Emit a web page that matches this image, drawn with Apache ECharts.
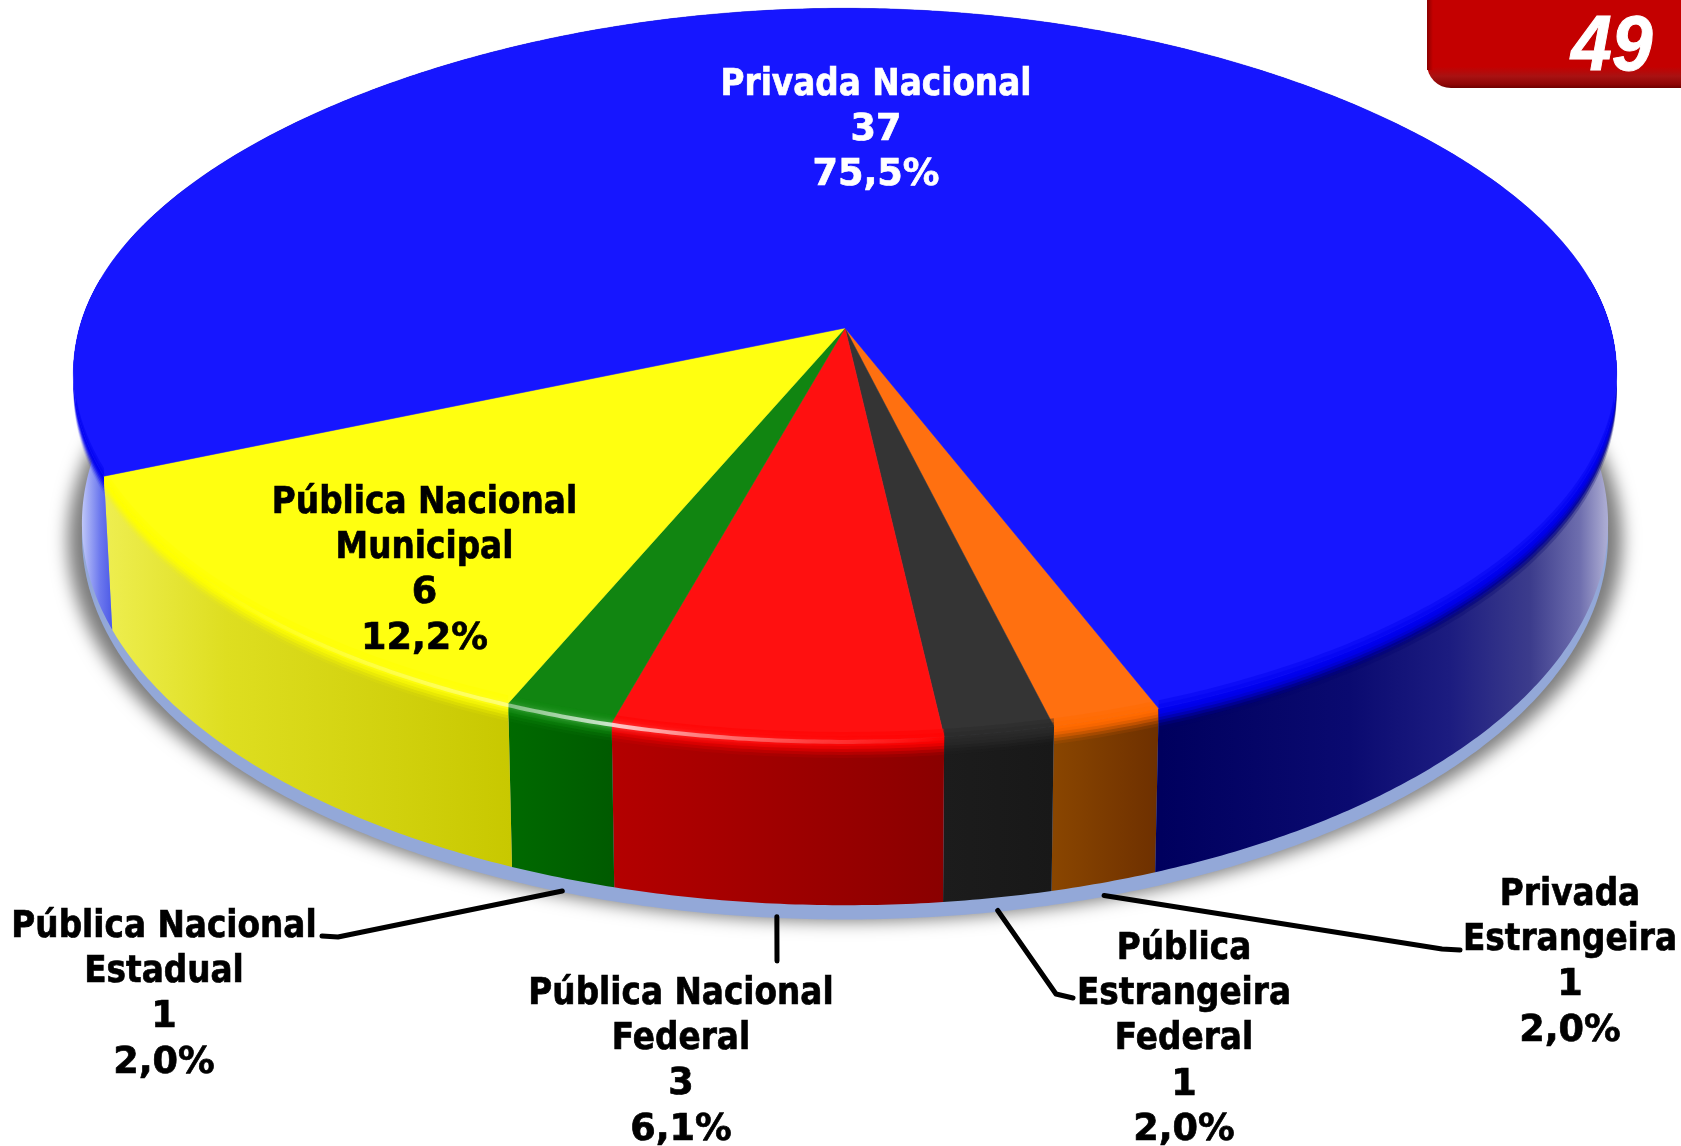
<!DOCTYPE html>
<html>
<head>
<meta charset="utf-8">
<style>html,body{margin:0;padding:0;background:#fff}#c{width:1681px;height:1146px}</style>
<script src="https://cdn.jsdelivr.net/npm/echarts@6/dist/echarts.min.js"></script>
</head>
<body>
<div id="c"></div>
<script>
// ---- data (clockwise from the orange slice) ----
const categoryLines = [
  ['Privada', 'Estrangeira'],
  ['Pública', 'Estrangeira', 'Federal'],
  ['Pública Nacional', 'Federal'],
  ['Pública Nacional', 'Estadual'],
  ['Pública Nacional', 'Municipal'],
  ['Privada Nacional']
];
const values = [1, 1, 3, 1, 6, 37];
const badgeText = '49';

// ---- styles ----
const topColors  = ['#ff7010', '#343434', '#ff1010', '#118511', '#ffff10', '#1616ff'];
const edgeColors = ['#ff6a00', '#2a2a2a', '#ff0000', '#0f8a0f', '#ffff00', '#0000f0'];
const wallStops = [
  [[0, '#8a4600'], [1, '#6e3000']],
  [[0, '#1c1c1c'], [1, '#181818']],
  [[0, '#b40000'], [1, '#8a0000']],
  [[0, '#006a00'], [1, '#005a00']],
  [[0, '#eeee50'], [0.3, '#dede20'], [1, '#c8c800']],
  [[0, '#c8d0fa'], [0.0045, '#c8d0fa'], [0.0175, '#6c78ee'], [0.03, '#3a48e2'], [0.04, '#000060'], [0.703, '#00005e'], [0.825, '#0a0a70'],
   [0.89, '#1c1c80'], [0.942, '#3c3c8c'], [0.974, '#6e6eae'], [0.99, '#a8a8d0'], [1, '#b8c0e8']]
];
const labelColors = ['#000', '#000', '#000', '#000', '#000', '#fff'];

// ---- layout ----
const startDeg = 68.8;
const CX = 845;
const PERSP = 0.126;
const TOP = { rx: 765.5, ry: 360, cy: 328, backPinch: 0.012 };
const BASE = { rx: 757, ry: 376, cy: 475 };
const labelX = [1570, 1184, 681, 164, 424.5, 876];
const labelY = [895, 949, 994, 927, 503, 85];
const lineGap = 45.4;
const leaderElbows = [
  [[1442, 949], [1460, 950]],
  [[1056, 994], [1073, 998]],
  [[777, 961]],
  [[338, 937], [322, 936]],
  null, null
];
const FONT = 'bold 37px "DejaVu Sans"';
const NAME_SQUEEZE = 0.885;
const NUMBER_SQUEEZE = 0.99;

const total = values.reduce((a, b) => a + b, 0);
const sliceRange = i => {
  let a = startDeg;
  for (let k = 0; k < i; k++) a += values[k] / total * 360;
  return [a, a + values[i] / total * 360];
};
// parts of a slice's rim that face the viewer
function clipRanges(a, b, lo, hi) {
  const out = [];
  [[lo, hi], [lo + 360, hi + 360]].forEach(r => {
    const s = Math.max(a, r[0]), e = Math.min(b, r[1]);
    if (e > s) out.push([s, e]);
  });
  return out;
}
function proj(deg, P, d) {
  const r = deg * Math.PI / 180, X = Math.cos(r), Y = Math.sin(r), w = 1 - PERSP * Y;
  const s2 = Math.sin(2 * r);
  const pinch = (P.backPinch && Y < 0) ? 1 - P.backPinch * s2 * s2 : 1;
  return [CX + pinch * P.rx * X / w, P.cy + pinch * P.ry * Y / w + (d || 0)];
}
function arc(a, b, P, d) {
  const pts = [], n = Math.max(2, Math.ceil((b - a) * 2));
  for (let k = 0; k <= n; k++) pts.push(proj(a + (b - a) * k / n, P, d));
  return pts;
}
function grad(stops, x0, x1) {
  return { type: 'linear', x: x0, y: 0, x2: x1, y2: 0, global: true,
    colorStops: stops.map(s => ({ offset: s[0], color: s[1] })) };
}
const poly = (points, style) => ({ type: 'polygon', shape: { points }, style, silent: true });

function series(z, fn, data) {
  return { type: 'custom', coordinateSystem: 'none', z, clip: false, animation: false, silent: true,
    data: data || values.map(v => [v]), renderItem: fn };
}
const whole = [[total]];

function renderShadow() {
  const far = 3000;
  const soft = Object.assign(poly(arc(0, 360, { rx: 771, ry: 375, cy: 492 }),
    { fill: '#000', shadowBlur: 17, shadowColor: '#7c7c7c', shadowOffsetX: far }), { x: -far });
  return { type: 'group', children: [
    soft,
    poly(arc(0, 360, { rx: BASE.rx, ry: BASE.ry + 2, cy: BASE.cy + 12 }), { fill: '#93a8d8' })
  ] };
}
function renderWall(params) {
  const i = params.dataIndex, [a, b] = sliceRange(i);
  const pts = arc(a, b, TOP).concat(arc(a, b, BASE).reverse());
  const isBlue = i === values.length - 1;
  const xs = pts.map(p => p[0]);
  const x0 = isBlue ? 73 : Math.min.apply(null, xs), x1 = isBlue ? 1620 : Math.max.apply(null, xs);
  return poly(pts, { fill: grad(wallStops[i], x0, x1) });
}
function renderBand(params) {
  const i = params.dataIndex, [a, b] = sliceRange(i);
  const ds = [18, 15, 12, 9, 6, 3], alphas = [0.1, 0.22, 0.36, 0.52, 0.72, 0.9];
  const children = [];
  if (i === values.length - 1) {
    // dark rim where the blue top turns into the lit right-hand wall
    clipRanges(a, b, -6, 70).forEach(r => [22, 18, 14].forEach((d, k) => children.push(poly(
      arc(r[0], r[1], TOP).concat(arc(r[0], r[1], TOP, d).reverse()),
      { fill: '#00006a', opacity: [0.25, 0.45, 0.7][k] }))));
  }
  clipRanges(a, b, -8, 188).forEach(r => ds.forEach((d, k) => children.push(poly(
    arc(r[0], r[1], TOP).concat(arc(r[0], r[1], TOP, d).reverse()),
    { fill: edgeColors[i], opacity: alphas[k] }))));
  return { type: 'group', children };
}
function renderTop(params) {
  const i = params.dataIndex, [a, b] = sliceRange(i);
  const apex = [CX, TOP.cy];
  const children = [poly([apex].concat(arc(a, b, TOP)), { fill: topColors[i], stroke: topColors[i], lineWidth: 0.5 })];
  clipRanges(a, b, 12, 168).forEach(r => [8, 4].forEach(d => children.push(poly(
    arc(r[0], r[1], TOP).concat(arc(r[0], r[1], TOP, -d).reverse()),
    { fill: edgeColors[i], opacity: 0.45 }))));
  return { type: 'group', children };
}
function renderHighlight() {
  return { type: 'polyline', silent: true,
    shape: { points: arc(72, 150, TOP, 2) },
    style: { fill: 'none', lineWidth: 4, lineCap: 'round', shadowBlur: 6, shadowColor: 'rgba(255,255,255,0.5)',
      stroke: grad([[0, 'rgba(255,255,255,0)'], [0.38, 'rgba(255,255,255,0.35)'], [0.55, 'rgba(255,255,255,0.75)'],
        [0.66, 'rgba(255,255,255,0.45)'], [0.82, 'rgba(255,255,255,0.2)'], [1, 'rgba(255,255,255,0)']], 200, 950) } };
}
function renderLabel(params) {
  const i = params.dataIndex, [a, b] = sliceRange(i);
  const pct = (values[i] / total * 100).toFixed(1).replace('.', ',') + '%';
  const names = categoryLines[i], lines = names.concat([String(values[i]), pct]);
  const children = lines.map((t, k) => ({
    type: 'text', silent: true, x: labelX[i], y: labelY[i] + k * lineGap,
    scaleX: k < names.length ? NAME_SQUEEZE : NUMBER_SQUEEZE,
    style: { text: t, x: 0, y: 0, font: FONT, fill: labelColors[i], stroke: labelColors[i], lineWidth: 0.7,
      align: 'center', verticalAlign: 'middle' }
  }));
  if (leaderElbows[i]) {
    const rim = proj((a + b) / 2, BASE, 13);
    children.push({ type: 'polyline', silent: true,
      shape: { points: [rim].concat(leaderElbows[i]) },
      style: { fill: 'none', stroke: '#000', lineWidth: 5, lineCap: 'round', lineJoin: 'round' } });
  }
  return { type: 'group', children };
}

const chart = echarts.init(document.getElementById('c'), null, { renderer: 'canvas' });
chart.setOption({
  animation: false,
  backgroundColor: '#fff',
  series: [
    series(1, renderShadow, whole),
    series(2, renderWall),
    series(3, renderBand),
    series(4, renderTop),
    series(5, renderHighlight, whole),
    series(6, renderLabel)
  ],
  graphic: [
    { type: 'rect', z: 10, silent: true, shape: { x: 1427, y: -30, width: 300, height: 118, r: 24 },
      style: { fill: { type: 'linear', x: 0, y: 0, x2: 0, y2: 1, colorStops: [
        { offset: 0, color: '#c40000' }, { offset: 0.82, color: '#c40000' }, { offset: 0.9, color: '#a81212' },
        { offset: 0.97, color: '#8e0606' }, { offset: 1, color: '#6e0000' }] } } },
    { type: 'rect', z: 10, silent: true, shape: { x: 1427, y: -30, width: 6, height: 100 },
      style: { fill: { type: 'linear', x: 0, y: 0, x2: 1, y2: 0, colorStops: [
        { offset: 0, color: '#8a0000' }, { offset: 1, color: '#c40000' }] } } },
    { type: 'text', z: 11, silent: true, x: 1571, y: 87, scaleX: 0.94,
      style: { text: badgeText, font: 'italic bold 78px "Liberation Sans"', fill: '#fff', stroke: '#fff', lineWidth: 1,
        align: 'left', verticalAlign: 'bottom', shadowBlur: 2, shadowColor: '#500', shadowOffsetX: 1, shadowOffsetY: 2 } }
  ]
});
</script>
</body>
</html>
